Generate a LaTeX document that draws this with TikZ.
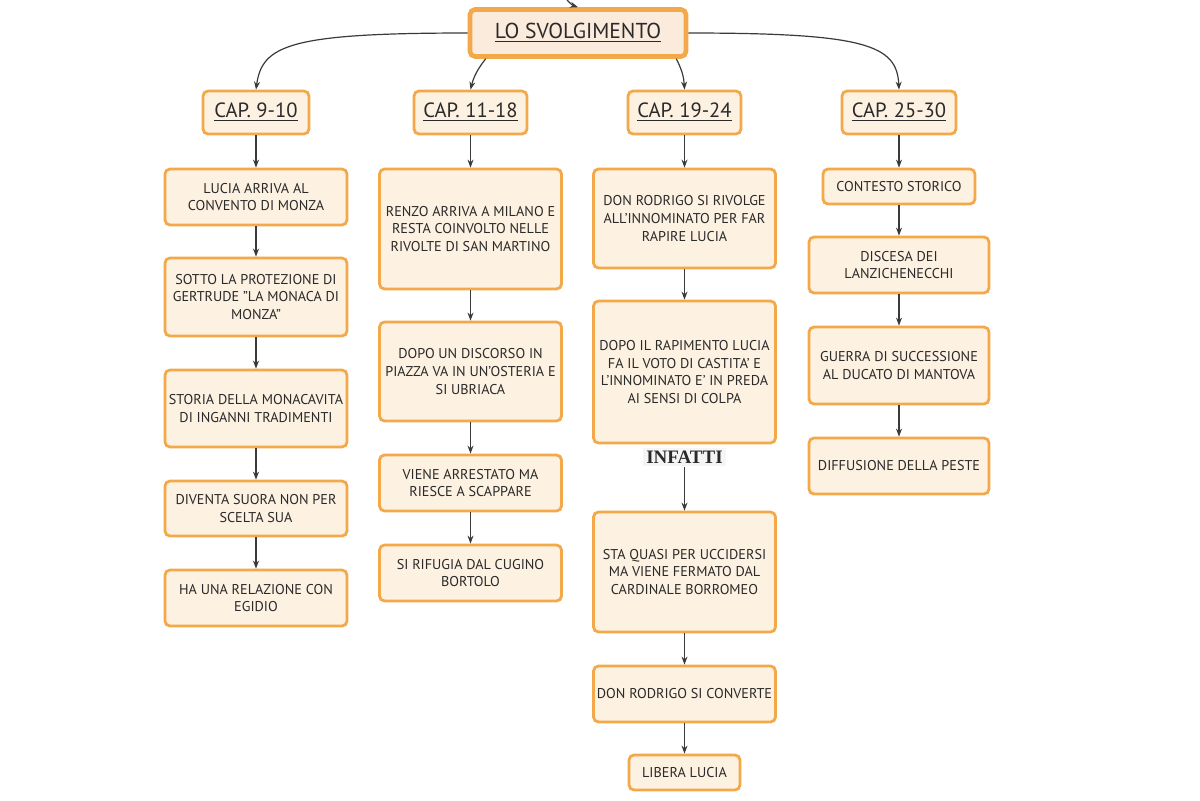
\documentclass[tikz,border=0pt]{standalone}
\usepackage{fontspec}
\setmainfont{PT Sans}
\newfontfamily\infattifont{Liberation Serif}
\usetikzlibrary{arrows.meta}
\definecolor{arancio}{HTML}{F3A849}
\definecolor{crema}{HTML}{FDF1E1}
\definecolor{titolofill}{HTML}{FBEBDD}
\definecolor{grigio}{HTML}{3A3A3A}
\definecolor{testo}{HTML}{2A2A2A}

\begin{document}
\begin{tikzpicture}[
    x=0.5pt, y=-0.5pt,
    every node/.style={inner sep=1pt, text=testo},
    boks/.style={rectangle, rounded corners=2.5pt, draw=arancio, line width=1.4pt,
    fill=crema, align=center, font=\fontsize{7.1}{8.8}\selectfont, minimum width=91pt},
    kap/.style={boks, font=\fontsize{10.3}{12}\selectfont, minimum height=21.5pt},
    tittel/.style={boks, line width=2.3pt, fill=titolofill, font=\fontsize{10.8}{12}\selectfont,
    minimum width=108pt, minimum height=23.5pt},
    pil/.style={draw=grigio, line width=0.6pt, -{Stealth[length=4pt,width=3pt]}}
]
\useasboundingbox (0,0) rectangle (1200,800);

% titolo e capitoli
\node[tittel] (titolo) at (578,33) {\underline{LO SVOLGIMENTO}};
\node[kap, minimum width=53pt] (cap1) at (256,112.5) {\underline{CAP. 9-10}};
\node[kap, minimum width=56.5pt] (cap2) at (470.5,112.5) {\underline{CAP. 11-18}};
\node[kap, minimum width=56.5pt] (cap3) at (684.5,112.5) {\underline{CAP. 19-24}};
\node[kap, minimum width=57pt] (cap4) at (899,112.5) {\underline{CAP. 25-30}};

\coordinate (sopra) at (567,0);
\draw[pil] (sopra) to[bend right=15] (titolo.north);
\draw[pil] (titolo.west) .. controls (290,33) and (262,45) .. (cap1.north);
\draw[pil] ([xshift=9pt]titolo.south west) to[bend right=12] (cap2.north);
\draw[pil] ([xshift=-6pt]titolo.south east) to[bend left=12] (cap3.north);
\draw[pil] (titolo.east) .. controls (866,33) and (897,45) .. (cap4.north);

% CAP. 9-10
\node[boks, minimum height=28pt] (a1) at (256,197) {LUCIA ARRIVA AL\\CONVENTO DI MONZA};
\node[boks, minimum height=39pt] (a2) at (256,297) {SOTTO LA PROTEZIONE DI\\GERTRUDE "LA MONACA DI\\MONZA"};
\node[boks, minimum height=38.5pt] (a3) at (256,408.5) {STORIA DELLA MONACAVITA\\DI INGANNI TRADIMENTI};
\node[boks, minimum height=27.5pt] (a4) at (256,508.5) {DIVENTA SUORA NON PER\\SCELTA SUA};
\node[boks, minimum height=28pt] (a5) at (256,598) {HA UNA RELAZIONE CON\\EGIDIO};

% CAP. 11-18
\node[boks, minimum height=60pt] (b1) at (470.5,229) {RENZO ARRIVA A MILANO E\\RESTA COINVOLTO NELLE\\RIVOLTE DI SAN MARTINO};
\node[boks, minimum height=49.5pt] (b2) at (470.5,371.5) {DOPO UN DISCORSO IN\\PIAZZA VA IN UN'OSTERIA E\\SI UBRIACA};
\node[boks, minimum height=28pt] (b3) at (470.5,483) {VIENE ARRESTATO MA\\RIESCE A SCAPPARE};
\node[boks, minimum height=28pt] (b4) at (470.5,573) {SI RIFUGIA DAL CUGINO\\BORTOLO};

% CAP. 19-24
\node[boks, minimum height=49.5pt] (c1) at (684.5,218.5) {DON RODRIGO SI RIVOLGE\\ALL'INNOMINATO PER FAR\\RAPIRE LUCIA};
\node[boks, minimum height=71pt] (c2) at (684.5,372) {DOPO IL RAPIMENTO LUCIA\\FA IL VOTO DI CASTITA' E\\L'INNOMINATO E' IN PREDA\\AI SENSI DI COLPA};
\node[fill=black!4, inner sep=1.5pt, font=\infattifont\bfseries\fontsize{9.5}{11}\selectfont] (infatti) at (684.5,457) {INFATTI};
\node[boks, minimum height=60pt] (c3) at (684.5,572) {STA QUASI PER UCCIDERSI\\MA VIENE FERMATO DAL\\CARDINALE BORROMEO};
\node[boks, minimum height=28pt] (c4) at (684.5,694) {DON RODRIGO SI CONVERTE};
\node[boks, minimum width=55.5pt, minimum height=17.5pt] (c5) at (684.5,772.5) {LIBERA LUCIA};

% CAP. 25-30
\node[boks, minimum width=76pt, minimum height=17.5pt] (d1) at (899,186.5) {CONTESTO STORICO};
\node[boks, minimum width=90pt, minimum height=28pt] (d2) at (899,265) {DISCESA DEI\\LANZICHENECCHI};
\node[boks, minimum width=90pt, minimum height=38.5pt] (d3) at (899,365.5) {GUERRA DI SUCCESSIONE\\AL DUCATO DI MANTOVA};
\node[boks, minimum width=90pt, minimum height=28pt] (d4) at (899,466) {DIFFUSIONE DELLA PESTE};

% frecce
\draw[pil] (cap1) -- (a1);
\draw[pil] (a1) -- (a2);
\draw[pil] (a2) -- (a3);
\draw[pil] (a3) -- (a4);
\draw[pil] (a4) -- (a5);
\draw[pil] (cap2) -- (b1);
\draw[pil] (b1) -- (b2);
\draw[pil] (b2) -- (b3);
\draw[pil] (b3) -- (b4);
\draw[pil] (cap3) -- (c1);
\draw[pil] (c1) -- (c2);
\draw[pil] (infatti) -- (c3);
\draw[pil] (c3) -- (c4);
\draw[pil] (c4) -- (c5);
\draw[pil] (cap4) -- (d1);
\draw[pil] (d1) -- (d2);
\draw[pil] (d2) -- (d3);
\draw[pil] (d3) -- (d4);
\end{tikzpicture}
\end{document}
